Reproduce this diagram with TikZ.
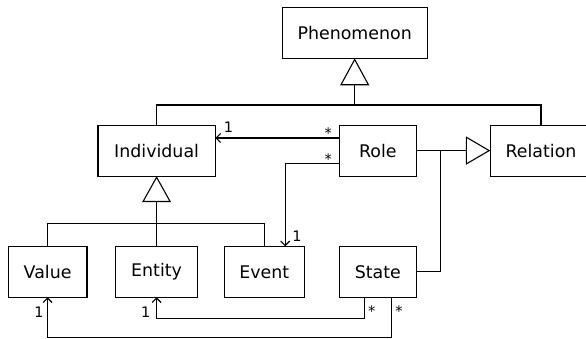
\documentclass[tikz,border=0pt]{standalone}
\usepackage{fontspec}
\setmainfont{DejaVu Sans}
\usetikzlibrary{arrows.meta}

\tikzset{
  cls/.style={draw, line width=1.1pt, inner sep=0pt, outer sep=0pt,
    minimum height=51pt, font=\fontsize{17.4}{20}\selectfont},
  wire/.style={line width=1.1pt},
  gen/.style={wire, -{Triangle[open, length=#1]}},
  assoc/.style={wire, -{Straight Barb[length=4.5pt, width=9pt]}},
  mult/.style={inner sep=0pt, font=\fontsize{14.5}{16}\selectfont},
}

\begin{document}
\begin{tikzpicture}[x=1pt, y=-1pt]
  \clip (0,0) rectangle (586,339);

  % classes
  \node[cls, minimum width=145pt]   (phen)  at (354.7, 32.8) {Phenomenon};
  \node[cls, minimum width=117.3pt] (indiv) at (156.6,150.6) {Individual};
  \node[cls, minimum width=77.7pt]  (role)  at (377.9,150.6) {Role};
  \node[cls, minimum width=101.4pt] (rel)   at (541.0,150.6) {Relation};
  \node[cls, minimum width=78.8pt]  (value) at (47.6, 271.8) {Value};
  \node[cls, minimum width=81.5pt]  (ent)   at (156.6,271.8) {Entity};
  \node[cls, minimum width=80pt]    (event) at (264.2,271.8) {Event};
  \node[cls, minimum width=77.7pt]  (state) at (377.9,271.8) {State};

  % junction points of the generalisation trees
  \coordinate (jtop) at (354.7,105);
  \coordinate (jind) at (156.6,223.3);
  \coordinate (jrel) at (440.7,150.6);

  % Individual and Relation specialise Phenomenon
  \draw[wire] (indiv.north) |- (jtop);
  \draw[wire] (rel.north) |- (jtop);
  \draw[gen={27pt, width=29pt}] (jtop) -- (phen.south);

  % Value, Entity and Event specialise Individual
  \draw[wire] (value.north) |- (jind);
  \draw[wire] (event.north) |- (jind);
  \draw[wire] (ent.north) -- (jind);
  \draw[gen={26pt, width=28.7pt}] (jind) -- (indiv.south);

  % Role and State specialise Relation
  \draw[wire] (state.east) -| (jrel);
  \draw[gen={24.5pt, width=28.3pt}] (role.east) -- (rel.west);

  % associations
  \draw[assoc] ([yshift=12.6pt]role.west) -- ([yshift=12.6pt]indiv.east);
  \draw[assoc] ([yshift=-13pt]role.west) -| ([xshift=21pt]event.north);
  \draw[assoc] ([xshift=-13.5pt]state.south) -- ++(0,21) -| (ent.south);
  \draw[assoc] ([xshift=13.4pt]state.south) -- ++(0,40.2) -| (value.south);

  % multiplicities
  \node[mult] (m1) at (228.6,127.5) {1};
  \node[mult] (m2) at (328.3,133.5) {*};
  \node[mult] (m3) at (328.3,158.8) {*};
  \node[mult] (m4) at (297.0,236.7) {1};
  \node[mult] (m5) at (39.0,312.7) {1};
  \node[mult] (m6) at (145.7,312.7) {1};
  \node[mult] (m7) at (371.7,311.0) {*};
  \node[mult] (m8) at (399.0,311.0) {*};
\end{tikzpicture}
\end{document}
